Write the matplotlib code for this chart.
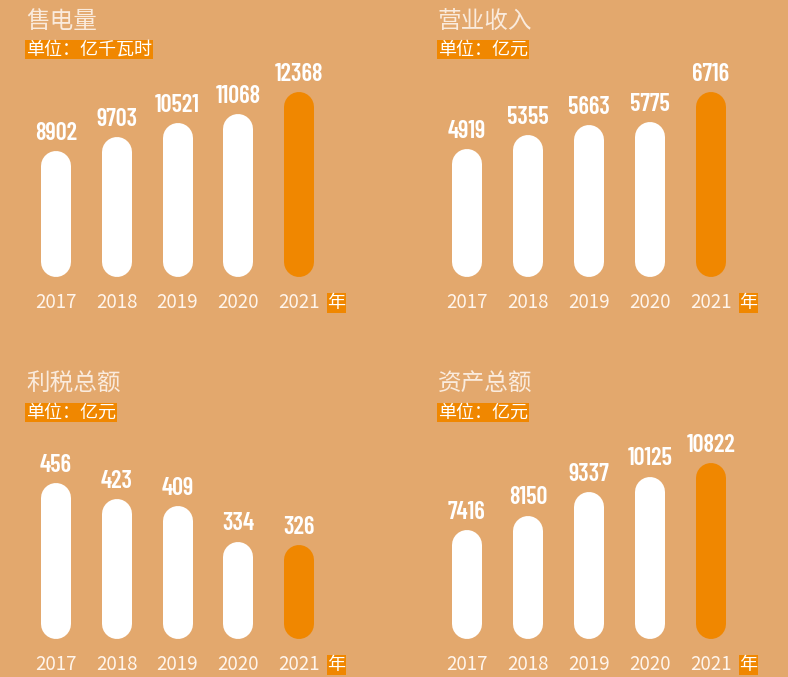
import matplotlib

matplotlib.use('Agg')
import matplotlib.pyplot as plt
from matplotlib import font_manager

plt.rcParams['font.family'] = ['Noto Sans CJK SC', 'DejaVu Sans']

# --- Data ---
years = ['2017', '2018', '2019', '2020', '2021']
sales = [8902, 9703, 10521, 11068, 12368]      # 售电量
revenue = [4919, 5355, 5663, 5775, 6716]       # 营业收入
tax = [456, 423, 409, 334, 326]                # 利税总额
assets = [7416, 8150, 9337, 10125, 10822]      # 资产总额
titles = ['售电量', '营业收入', '利税总额', '资产总额']
units = ['单位：亿千瓦时', '单位：亿元', '单位：亿元', '单位：亿元']

# --- Style ---
W, H = 788, 677
BG = '#E3A86D'
ORANGE = '#F08700'
TITLE_C = '#FAEBDD'
YEAR_C = '#FFF5EC'

installed = font_manager.fontManager.ttflist
names = {f.name for f in installed}

# condensed face for the numbers
NUM_FONT = 'DejaVu Sans'
for cand in ['Barlow Condensed', 'Roboto Condensed', 'Saira Condensed',
             'Oswald', 'Liberation Sans Narrow']:
    if cand in names:
        NUM_FONT = cand
        break

# thin CJK face for the titles, if one exists
TITLE_FONT = 'Noto Sans CJK SC'
for cand in ['Noto Sans SC', 'Noto Sans CJK SC']:
    if any(f.name == cand and f.weight in (200, 300, 'light') for f in installed):
        TITLE_FONT = cand
        break

fig = plt.figure(figsize=(W / 100, H / 100), dpi=100, facecolor=BG)

# panel layout: values, y baseline, px per unit, first bar centre px, bar spacing px, bar bottom px
panels = [
    (sales, 1386, 0.01681, 56, 60.75, 277),
    (revenue, 873, 0.03163, 467, 61.0, 277),
    (tax, 130, 0.4775, 56, 60.75, 639),
    (assets, 1883, 0.019705, 467, 61.0, 639),
]
title_pos = [(26, 21), (438, 21), (26, 384), (438, 384)]
unit_pos = [(26, 49.5), (438, 49.5), (26, 412.5), (438, 412.5)]

AX_H = 230  # px
BAR_W = 30  # px

for k, (vals, base, scale, c0, sp, bot) in enumerate(panels):
    left = (c0 - 0.5 * sp) / W
    ax = fig.add_axes([left, (H - bot) / H, 6 * sp / W, AX_H / H])
    ax.set_facecolor('none')
    ax.set_xlim(-0.5, 5.5)
    ax.set_ylim(base, base + AX_H / scale)
    for s in ax.spines.values():
        s.set_visible(False)
    ax.set_xticks([])
    ax.set_yticks([])

    r = (BAR_W / 2) / scale  # cap radius in data units
    for i, v in enumerate(vals):
        col = ORANGE if i == len(vals) - 1 else 'white'
        ax.plot([i, i], [base + r, v - r], color=col, lw=BAR_W * 0.72,
                solid_capstyle='round')
        ax.annotate(f'{v}', (i, v), xytext=(0, 8), textcoords='offset points',
                    ha='center', va='baseline', color='white', fontsize=17.5,
                    fontweight='semibold', family=NUM_FONT)
        ax.annotate(years[i], (i, 0), xycoords=('data', 'axes fraction'),
                    xytext=(0, -22.3), textcoords='offset points',
                    ha='center', va='baseline', color=YEAR_C, fontsize=13.5)
    ax.annotate('年', (len(vals) - 1, 0), xycoords=('data', 'axes fraction'),
                xytext=(27, -22.3), textcoords='offset points',
                ha='center', va='baseline', color='white', fontsize=13,
                bbox=dict(boxstyle='square,pad=0.05', fc=ORANGE, ec='none'))

    tx, ty = title_pos[k]
    fig.text(tx / W, 1 - ty / H, titles[k], ha='left', va='center',
             fontsize=17, fontweight='light', color=TITLE_C,
             family=[TITLE_FONT, 'Noto Sans CJK SC'])
    ux, uy = unit_pos[k]
    fig.text(ux / W, 1 - uy / H, units[k], ha='left', va='center',
             fontsize=13, color='white',
             bbox=dict(boxstyle='square,pad=0.05', fc=ORANGE, ec='none'))

fig.savefig('out.png', dpi=100, facecolor=BG)
